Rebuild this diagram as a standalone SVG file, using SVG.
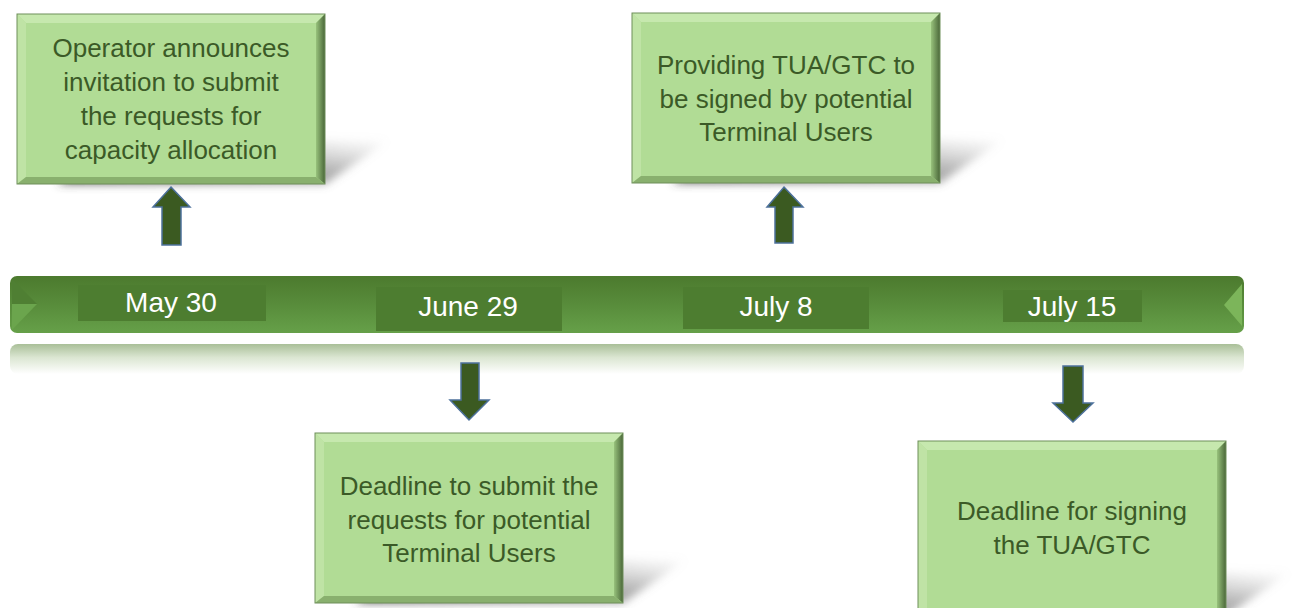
<svg xmlns="http://www.w3.org/2000/svg" width="1293" height="608" viewBox="0 0 1293 608">
<defs>
<linearGradient id="barG" x1="0" y1="0" x2="0" y2="1">
<stop offset="0" stop-color="#4c7a2e"/>
<stop offset="0.5" stop-color="#588c3b"/>
<stop offset="1" stop-color="#66a049"/>
</linearGradient>
<linearGradient id="reflG" x1="0" y1="0" x2="0" y2="1">
<stop offset="0" stop-color="#a9bf98"/>
<stop offset="0.45" stop-color="#dbe6d2"/>
<stop offset="1" stop-color="#ffffff"/>
</linearGradient>
<linearGradient id="rightG" x1="0" y1="0" x2="1" y2="0">
<stop offset="0" stop-color="#98c27c"/>
<stop offset="1" stop-color="#4a6739"/>
</linearGradient>
<linearGradient id="shadG" x1="0" y1="1" x2="1" y2="0">
<stop offset="0" stop-color="#444" stop-opacity="0.9"/>
<stop offset="0.6" stop-color="#777" stop-opacity="0.5"/>
<stop offset="1" stop-color="#aaa" stop-opacity="0"/>
</linearGradient>
<filter id="blur" x="-20%" y="-50%" width="140%" height="200%"><feGaussianBlur stdDeviation="4"/></filter>
<g id="box">
<rect x="0" y="0" width="308" height="170" fill="#b1dc95"/>
<polygon points="0,0 308,0 299,9 9,9" fill="#c6e8ae"/>
<polygon points="0,0 9,9 9,163 0,170" fill="#bfe3a5"/>
<polygon points="308,0 308,170 299,163 299,9" fill="url(#rightG)"/>
<polygon points="0,170 9,163 299,163 308,170" fill="#89b06e"/>
<rect x="0" y="0" width="308" height="170" fill="none" stroke="#6f8f5b" stroke-width="1"/>
</g>
<g id="shadow">
<polygon points="40,170 308,170 372,126 110,126" fill="url(#shadG)" filter="url(#blur)"/>
</g>
</defs>
<style>
.t{font-family:"Liberation Sans",Arial,sans-serif;font-size:26px;fill:#3b5a27;text-anchor:middle}
.d{font-family:"Liberation Sans",Arial,sans-serif;font-size:28px;fill:#ffffff;text-anchor:middle}
.arr{fill:#3b5a21;stroke:#4d719c;stroke-width:1.5;stroke-linejoin:miter}
.lab{fill:#4d7d30}
</style>

<g id="timeline">
<rect x="10" y="344" width="1234" height="30" rx="8" fill="url(#reflG)"/>
<rect x="10" y="276" width="1234" height="57" rx="7" fill="url(#barG)"/>
<polygon points="12,279 37,304 12,304" fill="#4f7f33"/>
<polygon points="12,304 37,304 12,330" fill="#6ba54d"/>
<polygon points="1242,284 1224,305 1242,326" fill="#7cb55a"/>
<rect class="lab" x="78" y="285" width="188" height="36"/>
<rect class="lab" x="376" y="287" width="186" height="44"/>
<rect class="lab" x="683" y="287" width="186" height="42"/>
<rect class="lab" x="1003" y="290" width="139" height="32"/>
<text class="d" x="171" y="312">May 30</text>
<text class="d" x="468" y="316">June 29</text>
<text class="d" x="776" y="316">July 8</text>
<text class="d" x="1072" y="316">July 15</text>
</g>

<g id="node1">
<use href="#shadow" x="17" y="14"/>
<use href="#box" x="17" y="14"/>
<text class="t" x="171" y="57">Operator announces</text>
<text class="t" x="171" y="91">invitation to submit</text>
<text class="t" x="171" y="125">the requests for</text>
<text class="t" x="171" y="159">capacity allocation</text>
</g>

<g id="node2">
<use href="#shadow" x="632" y="13"/>
<use href="#box" x="632" y="13"/>
<text class="t" x="786" y="74">Providing TUA/GTC to</text>
<text class="t" x="786" y="108">be signed by potential</text>
<text class="t" x="786" y="141">Terminal Users</text>
</g>

<g id="node3">
<use href="#shadow" x="315" y="433"/>
<use href="#box" x="315" y="433"/>
<text class="t" x="469" y="495">Deadline to submit the</text>
<text class="t" x="469" y="529">requests for potential</text>
<text class="t" x="469" y="562">Terminal Users</text>
</g>

<g id="node4">
<use href="#shadow" x="918" y="446"/>
<rect x="918" y="441" width="308" height="180" fill="#b1dc95"/>
<polygon points="918,441 1226,441 1217,450 927,450" fill="#c6e8ae"/>
<polygon points="918,441 927,450 927,621 918,621" fill="#bfe3a5"/>
<polygon points="1226,441 1226,621 1217,621 1217,450" fill="url(#rightG)"/>
<rect x="918" y="441" width="308" height="180" fill="none" stroke="#6f8f5b" stroke-width="1"/>
<text class="t" x="1072" y="520">Deadline for signing</text>
<text class="t" x="1072" y="554">the TUA/GTC</text>
</g>

<g id="connectors">
<polygon class="arr" points="171,187 190,207 181,207 181,245 162,245 162,207 153,207"/>
<polygon class="arr" points="784,187 803,207 793,207 793,243 775,243 775,207 767,207"/>
<polygon class="arr" points="461,363 479,363 479,400 489,400 469,420 450,400 461,400"/>
<polygon class="arr" points="1063,366 1083,366 1083,403 1093,403 1073,422 1053,403 1063,403"/>
</g>
</svg>
